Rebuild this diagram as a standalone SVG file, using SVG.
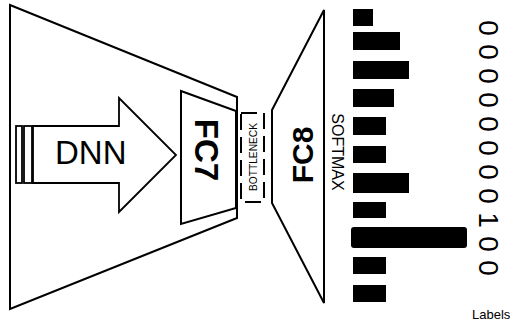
<svg xmlns="http://www.w3.org/2000/svg" width="510" height="323" viewBox="0 0 510 323">
  <style>
    .outline { fill: #fff; stroke: #000; stroke-width: 2; stroke-linejoin: miter; }
    .thin { fill: #fff; stroke: #000; stroke-width: 1.8; }
    .bar { fill: #000; }
    .lbl { font-family: "Liberation Sans", Arial, sans-serif; fill: #000; }
    .bold { font-weight: bold; }
    .digit { font-family: "Liberation Sans", Arial, sans-serif; font-size: 28px; fill: #000; text-anchor: middle; }
  </style>

  <!-- network body -->
  <g id="dnn">
    <polygon class="outline" points="10,5 237,97 237,218 10,309"/>
    <rect class="thin" x="16" y="126" width="6" height="57"/>
    <rect class="thin" x="24" y="126" width="8" height="57"/>
    <polygon class="thin" points="33,126 119,126 119,98 176,155 119,212 119,183 33,183"/>
    <text class="lbl" x="55" y="164" font-size="33">DNN</text>
  </g>

  <g id="fc7">
    <polygon class="outline" points="181,91 236,111 236,208 181,224"/>
    <text class="lbl bold" font-size="33" text-anchor="middle" transform="translate(207,150) rotate(90)" y="12">FC7</text>
  </g>

  <g id="bottleneck">
    <rect x="241" y="113" width="23" height="89" fill="none" stroke="#000" stroke-width="2" stroke-dasharray="16 7"/>
    <text class="lbl" font-size="11" text-anchor="middle" textLength="68" lengthAdjust="spacingAndGlyphs" transform="translate(253,157) rotate(-90)" y="4">BOTTLENECK</text>
  </g>

  <g id="fc8">
    <polygon class="outline" points="272,110 324,10 324,303 272,203"/>
    <text class="lbl bold" font-size="30" text-anchor="middle" transform="translate(302,155) rotate(-90)" y="11">FC8</text>
  </g>

  <g id="softmax">
    <text class="lbl" font-size="16" text-anchor="middle" transform="translate(338,152) rotate(90)" y="6">SOFTMAX</text>
    <rect class="bar" x="353" y="9" width="20" height="17"/>
    <rect class="bar" x="353" y="32" width="47" height="18"/>
    <rect class="bar" x="353" y="61" width="56" height="18"/>
    <rect class="bar" x="353" y="89" width="41" height="18"/>
    <rect class="bar" x="353" y="117" width="33" height="18"/>
    <rect class="bar" x="353" y="146" width="33" height="17"/>
    <rect class="bar" x="353" y="173" width="56" height="20"/>
    <rect class="bar" x="353" y="202" width="33" height="16"/>
    <rect class="bar" x="351" y="227" width="116" height="21" rx="3"/>
    <rect class="bar" x="353" y="257" width="33" height="17"/>
    <rect class="bar" x="353" y="285" width="33" height="17"/>
  </g>

  <g id="labels">
    <text class="digit" transform="translate(489,28) rotate(90)" y="10">0</text>
    <text class="digit" transform="translate(489,52) rotate(90)" y="10">0</text>
    <text class="digit" transform="translate(489,76) rotate(90)" y="10">0</text>
    <text class="digit" transform="translate(489,100) rotate(90)" y="10">0</text>
    <text class="digit" transform="translate(489,124) rotate(90)" y="10">0</text>
    <text class="digit" transform="translate(489,148) rotate(90)" y="10">0</text>
    <text class="digit" transform="translate(489,172) rotate(90)" y="10">0</text>
    <text class="digit" transform="translate(489,196) rotate(90)" y="10">0</text>
    <text class="digit" transform="translate(489,220) rotate(90)" y="10">1</text>
    <text class="digit" transform="translate(489,244) rotate(90)" y="10">0</text>
    <text class="digit" transform="translate(489,268) rotate(90)" y="10">0</text>
    <text class="lbl" x="472" y="319" font-size="13" fill="#2a0a0a">Labels</text>
  </g>
</svg>
